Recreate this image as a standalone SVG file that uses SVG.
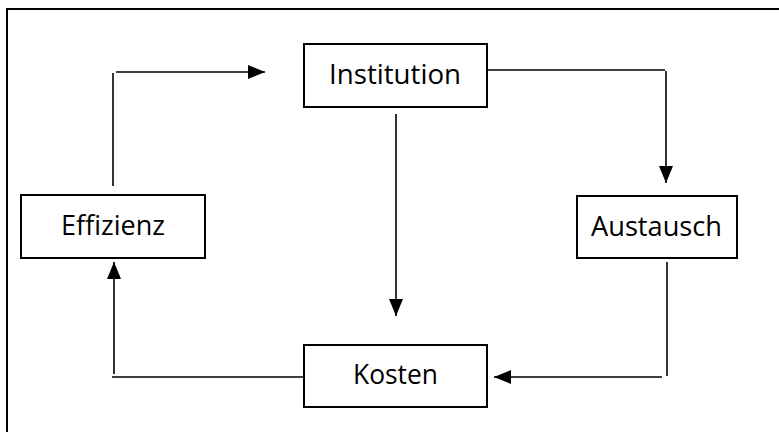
<svg xmlns="http://www.w3.org/2000/svg" width="779" height="432" viewBox="0 0 779 432">
<style>
.box{fill:#fff;stroke:#000;stroke-width:2}
.lbl{font-family:"Open Sans","Noto Sans","Liberation Sans",sans-serif;font-size:27.5px;fill:#000}
.ln{fill:none;stroke:#000;stroke-width:1.6}
</style>
<defs>
<marker id="ah" viewBox="0 0 17 14" refX="17" refY="7" markerWidth="17" markerHeight="14" markerUnits="userSpaceOnUse" orient="auto">
<path d="M0,0 L17,7 L0,14 Z" fill="#000"/>
</marker>
</defs>
<rect x="0" y="0" width="779" height="432" fill="#fff"/>
<path d="M7,440 L7,9 L790,9" fill="none" stroke="#000" stroke-width="2"/>
<g id="connectors">
<path class="ln" d="M113,186 L113,73"/>
<path class="ln" d="M116,72 L265,72" marker-end="url(#ah)"/>
<path class="ln" d="M488,70 L665,70"/>
<path class="ln" d="M666,71 L666,183" marker-end="url(#ah)"/>
<path class="ln" d="M396,114 L396,316" marker-end="url(#ah)"/>
<path class="ln" d="M667,262 L667,376"/>
<path class="ln" d="M662,377 L494,377" marker-end="url(#ah)"/>
<path class="ln" d="M304,377 L112,377"/>
<path class="ln" d="M114,374 L114,262" marker-end="url(#ah)"/>
</g>
<g id="institution">
<rect class="box" x="304" y="44" width="183" height="63"/>
<text class="lbl" x="329" y="84" textLength="132" lengthAdjust="spacingAndGlyphs">Institution</text>
</g>
<g id="effizienz">
<rect class="box" x="21" y="195" width="184" height="63"/>
<text class="lbl" x="61" y="235" textLength="104" lengthAdjust="spacingAndGlyphs">Effizienz</text>
</g>
<g id="austausch">
<rect class="box" x="577" y="196" width="160" height="62"/>
<text class="lbl" x="591" y="236" textLength="131" lengthAdjust="spacingAndGlyphs">Austausch</text>
</g>
<g id="kosten">
<rect class="box" x="304" y="345" width="183" height="62"/>
<text class="lbl" x="353" y="384" textLength="85" lengthAdjust="spacingAndGlyphs">Kosten</text>
</g>
</svg>
